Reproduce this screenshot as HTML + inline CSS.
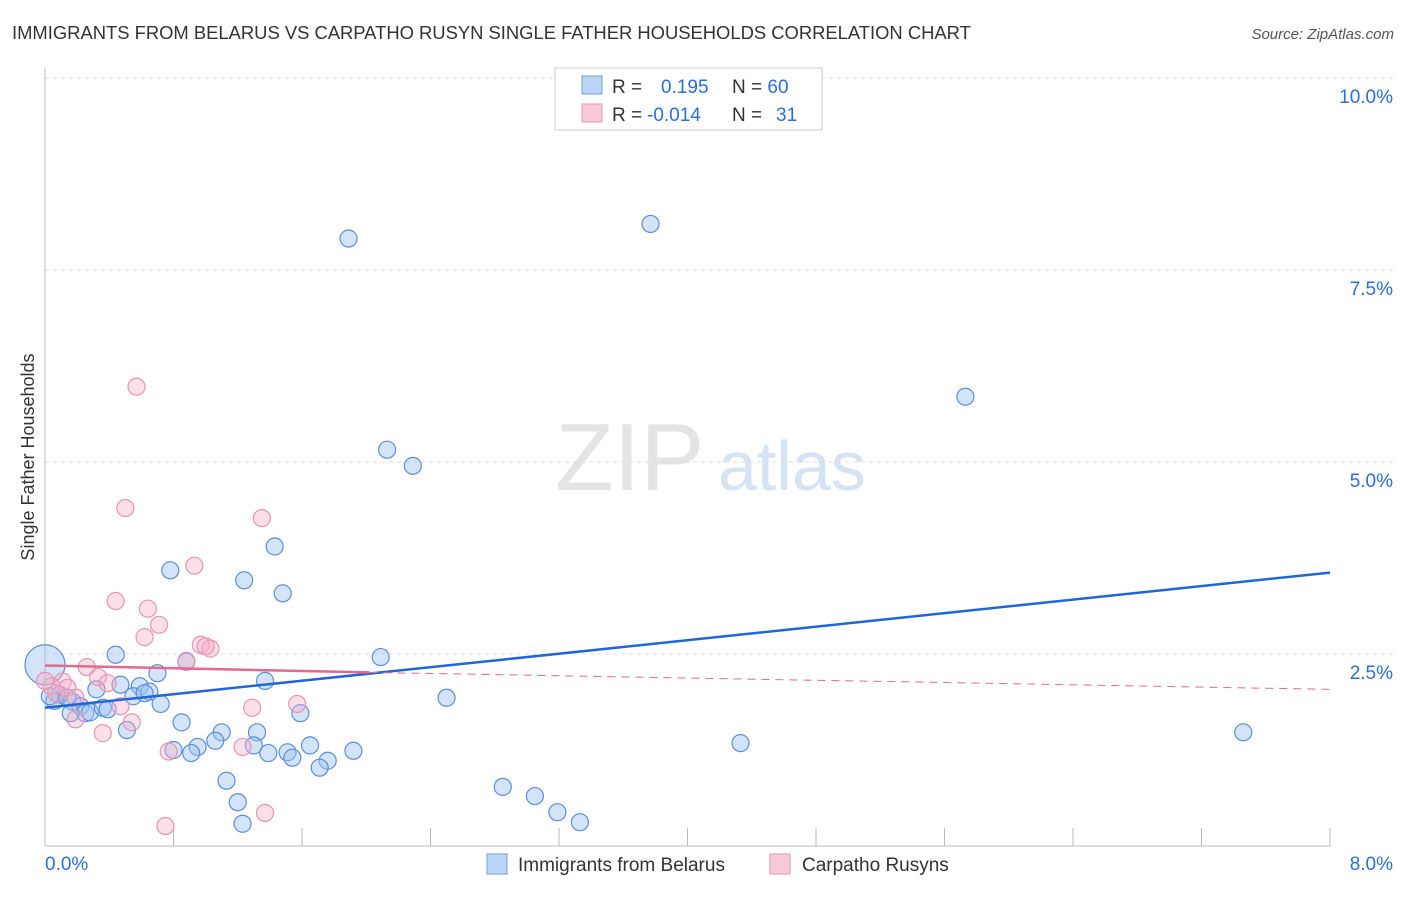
<!DOCTYPE html>
<html><head><meta charset="utf-8"><style>
body{margin:0;background:#fff;font-family:"Liberation Sans",sans-serif}
svg text{font-family:"Liberation Sans",sans-serif}
</style></head><body>
<svg width="1406" height="892" xmlns="http://www.w3.org/2000/svg">
<text x="12" y="39" font-size="18.4" fill="#333">IMMIGRANTS FROM BELARUS VS CARPATHO RUSYN SINGLE FATHER HOUSEHOLDS CORRELATION CHART</text>
<text x="1394" y="39" font-size="15" fill="#555" font-style="italic" text-anchor="end">Source: ZipAtlas.com</text>
<text x="555" y="490" font-size="96" fill="#e4e4e4" font-family="Liberation Serif">ZIP</text>
<text x="718" y="490" font-size="70" fill="#d5e3f5">atlas</text>
<text transform="translate(34,457) rotate(-90)" font-size="18" fill="#333" text-anchor="middle">Single Father Households</text>
<g id="grid"></g><g id="axes"></g><g id="pts"></g><g id="lines"></g>
<g>
<rect x="555" y="68" width="267" height="62" fill="#fff" stroke="#ccc"/>
<rect x="582" y="76" width="20" height="18" fill="#bcd5f5" stroke="#6f9fe0"/>
<rect x="582" y="104" width="20" height="18" fill="#f8c9d8" stroke="#e89ab3"/>
<text x="612" y="93" font-size="19" fill="#333">R = <tspan fill="#2a6fd6" x="661">0.195</tspan><tspan fill="#333" x="732">N = </tspan><tspan fill="#2a6fd6">60</tspan></text>
<text x="612" y="121" font-size="19" fill="#333">R = <tspan fill="#2a6fd6" x="647">-0.014</tspan><tspan fill="#333" x="732">N = </tspan><tspan fill="#2a6fd6" x="776">31</tspan></text>
</g>
<g>
<rect x="487" y="854" width="20" height="20" fill="#bcd5f5" stroke="#6f9fe0"/>
<text x="518" y="871" font-size="19" fill="#333">Immigrants from Belarus</text>
<rect x="770" y="854" width="20" height="20" fill="#f8c9d8" stroke="#e89ab3"/>
<text x="802" y="871" font-size="19" fill="#333">Carpatho Rusyns</text>
</g>
</svg>
<script>
const blueX=[1.89,3.77,5.73,2.13,2.29,1.43,0.78,1.24,1.48,0.44,0.88,2.09,0.70,1.37,0.32,0.47,0.59,0.65,0.55,0.62,0.72,0.17,0.09,0.06,0.03,0.22,0.25,0.28,0.36,0.39,0.16,1.59,0.85,0.51,2.50,1.10,1.32,1.06,0.95,0.80,0.91,1.30,1.65,1.51,1.39,1.54,1.92,1.76,1.71,4.33,7.46,1.13,2.85,3.05,1.20,3.19,3.33,1.23,0.0,0.14];
const blueY=[7.91,8.10,5.85,5.16,4.95,3.90,3.59,3.46,3.29,2.49,2.40,2.46,2.25,2.15,2.04,2.10,2.08,2.01,1.95,1.99,1.85,1.88,1.97,1.89,1.95,1.82,1.73,1.74,1.80,1.78,1.73,1.73,1.61,1.51,1.93,1.48,1.48,1.37,1.29,1.25,1.21,1.31,1.31,1.22,1.21,1.15,1.24,1.11,1.02,1.34,1.48,0.85,0.77,0.65,0.57,0.44,0.31,0.29,2.36,1.93];
const pinkX=[0.57,0.50,1.35,0.93,0.44,0.64,0.71,0.62,0.97,1.03,0.88,0.26,0.33,0.39,0.11,0.04,0.14,0.19,0.07,0.47,1.57,0.54,0.19,0.36,0.77,1.23,1.29,1.00,0.75,1.37,0.0];
const pinkY=[5.98,4.40,4.27,3.65,3.19,3.09,2.88,2.72,2.62,2.57,2.41,2.33,2.20,2.12,2.14,2.08,2.06,1.93,1.99,1.82,1.85,1.61,1.65,1.47,1.23,1.29,1.80,2.60,0.26,0.43,2.15];
const xTicks=[0,0.8,1.6,2.4,3.2,4.0,4.8,5.6,6.4,7.2,8.0];
const yTicks=[2.5,5,7.5,10];
const blueTrend=[[0,1.80],[8,3.56]];
const pinkTrend=[[0,2.35],[2.02,2.26],[8,2.04]];
const X=v=>45+v*160.625, Y=v=>846-v*76.8;
const NS="http://www.w3.org/2000/svg";
function mk(p,t,a){const e=document.createElementNS(NS,t);for(const k in a)e.setAttribute(k,a[k]);document.getElementById(p).appendChild(e);return e;}
yTicks.forEach(t=>{
 const l=mk('grid','line',{x1:45,x2:1394,y1:Y(t),y2:Y(t),stroke:'#ddd','stroke-dasharray':'4,4'});
 
 
 const tx=mk('grid','text',{x:1393,y:Y(t)+25,'font-size':19,fill:'#2a6fd6','text-anchor':'end'});
 tx.textContent=t.toFixed(1)+'%';
 
 
});
const ax=mk('axes','line',{x1:45,x2:1330,y1:846,y2:846,stroke:'#bbb'});


const ay=mk('axes','line',{x1:45,x2:45,y1:68,y2:846,stroke:'#bbb'});


xTicks.forEach(t=>{
 const l=mk('axes','line',{x1:X(t),x2:X(t),y1:828,y2:846,stroke:'#bbb'});
 
 
});
[[0,'start'],[8,'end']].forEach(([t,a])=>{
 const tx=mk('axes','text',{x:t==0?45:1393,y:870,'font-size':19,fill:'#2a6fd6','text-anchor':a});
 tx.textContent=t.toFixed(1)+'%';
 
 
});
blueX.forEach((x,i)=>{
 const c=mk('pts','circle',{cx:X(x),cy:Y(blueY[i]),r:(i==58?20:8.5),fill:'rgba(160,195,240,0.45)',stroke:'#5b8fdc','stroke-width':1.2});
 
 
});
pinkX.forEach((x,i)=>{
 const c=mk('pts','circle',{cx:X(x),cy:Y(pinkY[i]),r:8.5,fill:'rgba(245,175,200,0.4)',stroke:'#e895b0','stroke-width':1.2});
 
 
});
const bl=mk('lines','line',{x1:X(blueTrend[0][0]),y1:Y(blueTrend[0][1]),x2:X(blueTrend[1][0]),y2:Y(blueTrend[1][1]),stroke:'#2166d6','stroke-width':2.5});


const pl=mk('lines','line',{x1:X(pinkTrend[0][0]),y1:Y(pinkTrend[0][1]),x2:X(pinkTrend[1][0]),y2:Y(pinkTrend[1][1]),stroke:'#e5688e','stroke-width':2.5});


const pd=mk('lines','line',{x1:X(pinkTrend[1][0]),y1:Y(pinkTrend[1][1]),x2:X(pinkTrend[2][0]),y2:Y(pinkTrend[2][1]),stroke:'#e5688e','stroke-width':1,'stroke-dasharray':'8,6'});


</script>
</body></html>
